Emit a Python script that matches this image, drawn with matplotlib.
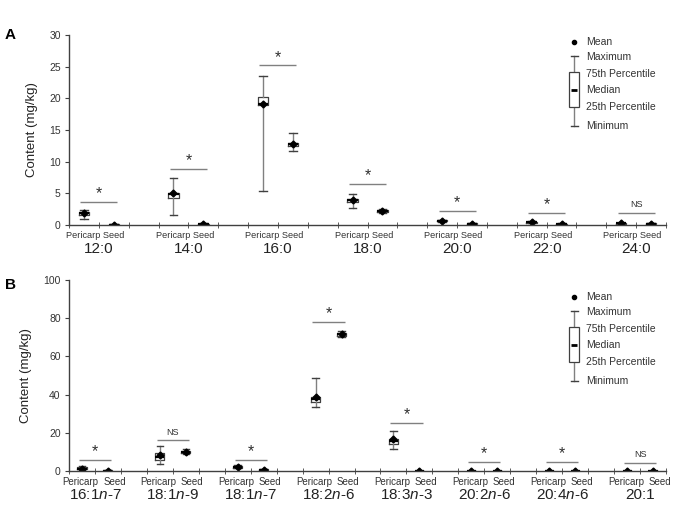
import matplotlib
matplotlib.use("Agg")
import matplotlib.pyplot as plt
import matplotlib.transforms as mtransforms

plt.rcParams['font.family'] = ['Liberation Sans', 'DejaVu Sans']
plt.rcParams['mathtext.fontset'] = 'custom'
plt.rcParams['mathtext.rm'] = 'Liberation Sans'
plt.rcParams['mathtext.it'] = 'Liberation Sans:italic'

# Panel A - saturated fatty acids
groups_a = ['12:0', '14:0', '16:0', '18:0', '20:0', '22:0', '24:0']
per_mean_a = [1.9, 5.1, 19.1, 3.9, 0.7, 0.45, 0.25]
per_med_a = [1.9, 4.9, 19.1, 3.9, 0.7, 0.45, 0.25]
per_q1_a = [1.6, 4.2, 18.9, 3.7, 0.62, 0.38, 0.2]
per_q3_a = [2.1, 5.1, 20.2, 4.1, 0.78, 0.52, 0.3]
per_lo_a = [1.0, 1.6, 5.4, 2.75, 0.55, 0.3, 0.15]
per_hi_a = [2.4, 7.4, 23.5, 4.85, 0.85, 0.6, 0.35]
seed_mean_a = [0.05, 0.15, 12.8, 2.2, 0.2, 0.15, 0.2]
seed_med_a = [0.05, 0.15, 12.8, 2.2, 0.2, 0.15, 0.2]
seed_q1_a = [0.02, 0.1, 12.5, 2.1, 0.15, 0.1, 0.15]
seed_q3_a = [0.08, 0.2, 13.0, 2.3, 0.25, 0.2, 0.25]
seed_lo_a = [0.0, 0.05, 11.7, 1.9, 0.1, 0.05, 0.1]
seed_hi_a = [0.1, 0.25, 14.5, 2.5, 0.3, 0.25, 0.3]
sig_y_a = [3.6, 8.9, 25.2, 6.5, 2.2, 1.95, 1.95]
sig_a = ['*', '*', '*', '*', '*', '*', 'NS']

# Panel B - unsaturated fatty acids
groups_b = [r'16:1$\mathit{n}$-7', r'18:1$\mathit{n}$-9', r'18:1$\mathit{n}$-7',
            r'18:2$\mathit{n}$-6', r'18:3$\mathit{n}$-3', r'20:2$\mathit{n}$-6',
            r'20:4$\mathit{n}$-6', '20:1']
per_mean_b = [1.3, 8.3, 2.2, 38.6, 16.7, 0.1, 0.1, 0.1]
per_med_b = [1.3, 7.5, 2.2, 37.5, 15.5, 0.1, 0.1, 0.1]
per_q1_b = [0.8, 6.0, 1.8, 36.3, 14.0, 0.05, 0.05, 0.05]
per_q3_b = [1.9, 9.2, 2.6, 39.0, 17.0, 0.15, 0.15, 0.15]
per_lo_b = [0.5, 3.5, 1.5, 33.4, 11.3, 0.0, 0.0, 0.0]
per_hi_b = [2.7, 13.0, 3.0, 48.6, 21.0, 0.2, 0.2, 0.2]
seed_mean_b = [0.2, 10.2, 0.7, 71.5, 0.1, 0.1, 0.1, 0.1]
seed_med_b = [0.2, 10.1, 0.7, 71.5, 0.1, 0.1, 0.1, 0.1]
seed_q1_b = [0.1, 9.5, 0.5, 70.8, 0.05, 0.05, 0.05, 0.05]
seed_q3_b = [0.3, 10.7, 0.9, 72.3, 0.15, 0.15, 0.15, 0.15]
seed_lo_b = [0.0, 8.9, 0.3, 70.0, 0.0, 0.0, 0.0, 0.0]
seed_hi_b = [0.4, 11.7, 1.1, 73.2, 0.2, 0.2, 0.2, 0.2]
sig_y_b = [5.6, 16.2, 5.6, 77.9, 25.0, 4.7, 4.7, 4.4]
sig_b = ['*', 'NS', '*', '*', '*', '*', '*', 'NS']

key_labels = ['Mean', 'Maximum', '75th Percentile', 'Median', '25th Percentile', 'Minimum']

GRAY = '#808080'
DARK = '#404040'


def make_stats(mean, med, q1, q3, lo, hi):
    return [dict(mean=m, med=d, q1=a, q3=b, whislo=l, whishi=h, fliers=[])
            for m, d, a, b, l, h in zip(mean, med, q1, q3, lo, hi)]


def draw_panel(ax, groups, per, seed, sig_y, sig, ymax, ystep, ax_h_px, joined):
    n = len(groups)
    per_pos = [3 * i for i in range(n)]
    seed_pos = [3 * i + 1 for i in range(n)]
    style = dict(widths=0.35, showmeans=True, patch_artist=False,
                 boxprops=dict(color=DARK, lw=0.9),
                 whiskerprops=dict(color=GRAY, lw=1.0),
                 capprops=dict(color=DARK, lw=1.0),
                 medianprops=dict(color='black', lw=1.6),
                 meanprops=dict(marker='D', markerfacecolor='black',
                                markeredgecolor='black', markersize=3.5),
                 capwidths=0.25)
    ax.bxp(make_stats(*per), positions=per_pos, manage_ticks=False, **style)
    ax.bxp(make_stats(*seed), positions=seed_pos, manage_ticks=False, **style)

    # significance bars
    for p, s, y, lab in zip(per_pos, seed_pos, sig_y, sig):
        ax.hlines(y, p - 0.12, s + 0.12, color=GRAY, lw=1.0)
        if lab == '*':
            ax.annotate('*', ((p + s) / 2, y), xytext=(0, 0.5), textcoords='offset points',
                        ha='center', va='bottom', fontsize=11.5, color='#303030')
        else:
            ax.annotate('NS', ((p + s) / 2, y), xytext=(0, 2.5), textcoords='offset points',
                        ha='center', va='bottom', fontsize=6.5, color='#303030')

    ax.set_xlim(-0.5, 3 * n - 1.5)
    ax.set_ylim(0, ymax)
    ax.set_yticks(range(0, ymax + 1, ystep))
    ax.tick_params(axis='y', labelsize=7.5, length=3, color=DARK, labelcolor='#333333', pad=3)

    # slot boundary ticks, no labels on them
    ax.set_xticks([])
    ax.set_xticks([x - 0.5 for x in range(3 * n)], minor=True)
    ax.tick_params(axis='x', which='minor', length=4, direction='inout', color=DARK)

    trans = mtransforms.blended_transform_factory(ax.transData, ax.transAxes)
    sub_y = -11 / ax_h_px
    for p, s, g in zip(per_pos, seed_pos, groups):
        if joined:
            ax.text((p + s) / 2 - 0.12, sub_y, 'Pericarp Seed', transform=trans,
                    ha='center', va='center', fontsize=6.6, color='#333333')
        else:
            ax.text(p - 0.05, sub_y, 'Pericarp', transform=trans,
                    ha='center', va='center', fontsize=7, color='#333333')
            ax.text(s + 0.25, sub_y, 'Seed', transform=trans,
                    ha='center', va='center', fontsize=7, color='#333333')
        ax.text((p + s) / 2, -24 / ax_h_px, g, transform=trans, ha='center', va='center',
                fontsize=11, color='#222222')

    for side in ['top', 'right']:
        ax.spines[side].set_visible(False)
    for side in ['left', 'bottom']:
        ax.spines[side].set_color(DARK)
        ax.spines[side].set_linewidth(1.0)
    ax.set_ylabel('Content (mg/kg)', fontsize=9.5, color='#222222', labelpad=8)


def draw_key(ax, top_px, ax_h_px):
    # top_px: distance of the mean dot below the top of the axes, in pixels
    def fy(px):
        return 1 - (top_px + px) / ax_h_px
    xk = (574 - 69) / 597
    xt = (586 - 69) / 597
    bw = 5.2 / 597
    offs = [0, 15, 32.5, 48.5, 65.5, 84]
    ax.plot([xk], [fy(0)], 'o', color='black', markersize=3, transform=ax.transAxes)
    ax.plot([xk, xk], [fy(14), fy(84.5)], color=GRAY, lw=1.0, transform=ax.transAxes)
    for o in (14, 84.5):
        ax.plot([xk - 3.5 / 597, xk + 3.5 / 597], [fy(o), fy(o)], color=DARK, lw=1.0,
                transform=ax.transAxes)
    ax.add_patch(plt.Rectangle((xk - bw, fy(65.5)), 2 * bw, fy(30.5) - fy(65.5),
                               facecolor='white', edgecolor=DARK, lw=0.9,
                               transform=ax.transAxes, zorder=3))
    ax.plot([xk - 3 / 597, xk + 3 / 597], [fy(48.5), fy(48.5)], color='black', lw=2,
            transform=ax.transAxes, zorder=4, solid_capstyle='butt')
    for o, lab in zip(offs, key_labels):
        ax.text(xt, fy(o), lab, transform=ax.transAxes, ha='left', va='center',
                fontsize=7.5, color='#333333')


fig = plt.figure(figsize=(6.81, 5.05), dpi=100)
ax_a = fig.add_axes([69 / 681, 1 - 225 / 505, 597 / 681, 190 / 505])
ax_b = fig.add_axes([69 / 681, 1 - 471 / 505, 597 / 681, 191 / 505])

draw_panel(ax_a, groups_a,
           (per_mean_a, per_med_a, per_q1_a, per_q3_a, per_lo_a, per_hi_a),
           (seed_mean_a, seed_med_a, seed_q1_a, seed_q3_a, seed_lo_a, seed_hi_a),
           sig_y_a, sig_a, 30, 5, 190, True)
draw_panel(ax_b, groups_b,
           (per_mean_b, per_med_b, per_q1_b, per_q3_b, per_lo_b, per_hi_b),
           (seed_mean_b, seed_med_b, seed_q1_b, seed_q3_b, seed_lo_b, seed_hi_b),
           sig_y_b, sig_b, 100, 20, 191, False)
draw_key(ax_a, 6.7, 190)
draw_key(ax_b, 16.7, 191)

fig.text(5 / 681, 1 - 35 / 505, 'A', fontsize=11, fontweight='bold', va='center')
fig.text(5 / 681, 1 - 285 / 505, 'B', fontsize=11, fontweight='bold', va='center')

fig.savefig('out.png', dpi=100)
